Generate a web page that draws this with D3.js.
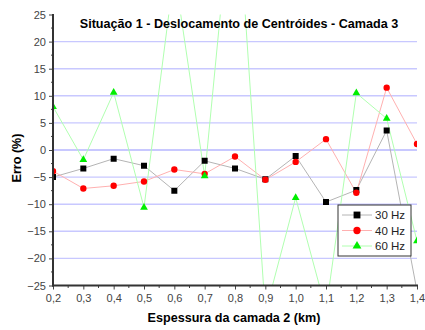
<!DOCTYPE html>
<html>
<head>
<meta charset="utf-8">
<script src="https://cdnjs.cloudflare.com/ajax/libs/d3/7.8.5/d3.min.js"></script>
<style>
  body { margin: 0; background: #fff; }
  svg { font-family: Arial, "Liberation Sans", sans-serif; }
</style>
</head>
<body>
<div id="chart"></div>
<script>
(function(){
  'use strict';

  var espessura = [0.2, 0.3, 0.4, 0.5, 0.6, 0.7, 0.8, 0.9, 1.0, 1.1, 1.2, 1.3, 1.4],
      erro30 = [-5.0, -3.4, -1.6, -2.9, -7.5, -2.0, -3.4, -5.4, -1.1, -9.6, -7.4, 3.6, -26],
      erro40 = [-3.9, -7.1, -6.6, -5.8, -3.6, -4.4, -1.2, -5.5, -2.2, 2.0, -7.9, 11.5, 1.1],
      erro60 = [8.0, -1.8, 10.6, -10.6, 33, -4.8, 53, -30, -8.8, -29.5, 10.5, 5.8, -16.8],
      yTicks = [25, 20, 15, 10, 5, 0, -5, -10, -15, -20, -25],
      xTicks = [0.2, 0.3, 0.4, 0.5, 0.6, 0.7, 0.8, 0.9, 1.0, 1.1, 1.2, 1.3, 1.4];

  var series = [
        {name: '30 Hz', vals: erro30, line: '#b4b4b4', c: '#000000', sym: d3.symbolSquare, size: 36},
        {name: '40 Hz', vals: erro40, line: '#ffb0b0', c: '#ff0000', sym: d3.symbolCircle, size: 32},
        {name: '60 Hz', vals: erro60, line: '#b0ffb0', c: '#00ee00', sym: d3.symbolTriangle, size: 26}
      ],
      w = 425,
      h = 330,
      svg = d3.select('#chart').append('svg')
        .attr('width', w)
        .attr('height', h);

  var x = d3.scaleLinear()
      .domain([0.2, 1.4])
      .range([53, 417]),

      y = d3.scaleLinear()
      .domain([-25, 25])
      .range([285.5, 14.5]);

  var fmt = function(d) { return d3.format('.1f')(d).replace('.', ','); };

  // grid
  svg.append('g').selectAll('line')
    .data(yTicks.filter(function(d) { return d !== 25 && d !== -25; }))
    .enter().append('line')
    .attr('x1', 53).attr('x2', 417)
    .attr('y1', function(d) { return y(d); })
    .attr('y2', function(d) { return y(d); })
    .style('stroke', '#c8c8ff')
    .style('stroke-width', function(d) { return d === 0 ? 2 : 1.4; });

  svg.append('clipPath').attr('id', 'plot')
    .append('rect')
    .attr('x', 53).attr('y', 14.5)
    .attr('width', 364).attr('height', 271);

  var plot = svg.append('g').attr('clip-path', 'url(#plot)');

  var line = d3.line()
    .x(function(d, i) { return x(espessura[i]); })
    .y(function(d) { return y(d); });

  series.forEach(function(s) {
    plot.append('path')
      .attr('d', line(s.vals))
      .style('fill', 'none')
      .style('stroke', s.line)
      .style('stroke-width', 1);
  });

  series.forEach(function(s) {
    plot.selectAll('.pt' + s.name.slice(0, 2))
      .data(s.vals)
      .enter().append('path')
      .attr('d', d3.symbol().type(s.sym).size(s.size))
      .attr('transform', function(d, i) {
        return 'translate(' + x(espessura[i]) + ',' + y(d) + ')';
      })
      .style('fill', s.c);
  });

  // axes
  var yAxis = d3.axisLeft(y)
      .tickValues(yTicks)
      .tickSize(4)
      .tickPadding(3),
      xAxis = d3.axisBottom(x)
      .tickValues(xTicks)
      .tickSize(4)
      .tickPadding(5)
      .tickFormat(fmt);

  var gy = svg.append('g')
    .attr('transform', 'translate(53,0)')
    .call(yAxis);
  gy.selectAll('.tick line').style('stroke', '#444');
  gy.selectAll('.tick text').style('font-size', '11px').style('fill', '#444');
  gy.select('.domain').remove();
  gy.selectAll('.minor')
    .data(d3.range(-22.5, 25, 5))
    .enter().append('line')
    .attr('x1', -2).attr('x2', 0)
    .attr('y1', function(d) { return y(d); })
    .attr('y2', function(d) { return y(d); })
    .style('stroke', '#444');

  var gx = svg.append('g')
    .attr('transform', 'translate(0,285.5)')
    .call(xAxis);
  gx.selectAll('.tick line').style('stroke', '#444');
  gx.selectAll('.tick text').style('font-size', '11px').style('fill', '#444');
  gx.select('.domain').remove();
  gx.selectAll('.minor')
    .data(d3.range(0.25, 1.4, 0.1))
    .enter().append('line')
    .attr('x1', function(d) { return x(d); })
    .attr('x2', function(d) { return x(d); })
    .attr('y1', 0).attr('y2', 2.5)
    .style('stroke', '#444');

  svg.append('line')
    .attr('x1', 53).attr('x2', 53)
    .attr('y1', 14).attr('y2', 286.5)
    .style('stroke', '#333').style('stroke-width', 2);
  svg.append('line')
    .attr('x1', 52).attr('x2', 418)
    .attr('y1', 285.5).attr('y2', 285.5)
    .style('stroke', '#333').style('stroke-width', 2);

  // title and labels
  svg.append('text')
    .attr('x', 239).attr('y', 28)
    .attr('text-anchor', 'middle')
    .style('font-size', '12.6px').style('font-weight', 'bold')
    .text('Situação 1 - Deslocamento de Centróides - Camada 3');

  svg.append('text')
    .attr('transform', 'translate(21,158) rotate(-90)')
    .attr('text-anchor', 'middle')
    .style('font-size', '12.6px').style('font-weight', 'bold')
    .text('Erro (%)');

  svg.append('text')
    .attr('x', 234).attr('y', 322)
    .attr('text-anchor', 'middle')
    .style('font-size', '12.6px').style('font-weight', 'bold')
    .text('Espessura da camada 2 (km)');

  // legend
  var lg = svg.append('g').attr('transform', 'translate(338,205)');
  lg.append('rect')
    .attr('width', 73).attr('height', 51)
    .style('fill', '#fff').style('stroke', '#333').style('stroke-width', 1);

  var items = lg.selectAll('.item')
    .data(series)
    .enter().append('g')
    .attr('transform', function(d, i) { return 'translate(0,' + (10 + i * 15.5) + ')'; });
  items.append('line')
    .attr('x1', 4).attr('x2', 34)
    .style('stroke', function(d) { return d.line; });
  items.append('path')
    .attr('d', function(d) { return d3.symbol().type(d.sym).size(d.size * 1.3)(); })
    .attr('transform', 'translate(19,0)')
    .style('fill', function(d) { return d.c; });
  items.append('text')
    .attr('x', 37).attr('y', 4)
    .style('font-size', '11.5px').style('fill', '#222')
    .text(function(d) { return d.name; });

}());
</script>
</body>
</html>
